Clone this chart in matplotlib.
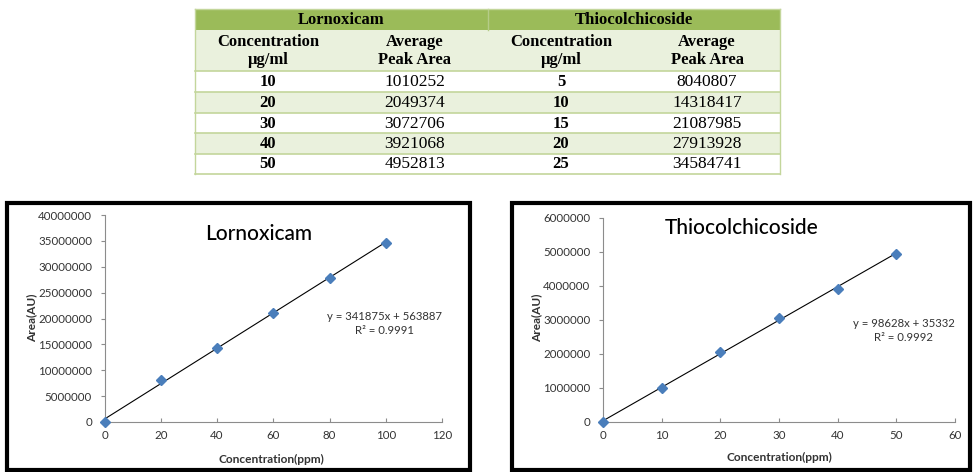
import numpy as np
import matplotlib.pyplot as plt
import matplotlib.patches as mpatches

# table values
lorn_conc = [10, 20, 30, 40, 50]
lorn_area = [1010252, 2049374, 3072706, 3921068, 4952813]
thio_conc = [5, 10, 15, 20, 25]
thio_area = [8040807, 14318417, 21087985, 27913928, 34584741]

# calibration charts (as plotted in the figure)
lorn_chart_x = [0, 20, 40, 60, 80, 100]
lorn_chart_y = [0, 8040807, 14318417, 21087985, 27913928, 34584741]
lorn_fit = [341875, 563887, 0.9991]

thio_chart_x = [0, 10, 20, 30, 40, 50]
thio_chart_y = [0, 1010252, 2049374, 3072706, 3921068, 4952813]
thio_fit = [98628, 35332, 0.9992]

plt.rcParams['font.family'] = ['Lato', 'DejaVu Sans']

W, H = 980, 472
fig = plt.figure(figsize=(9.8, 4.72), dpi=100)

# full-figure canvas in pixel coordinates for table and frames
canvas = fig.add_axes([0, 0, 1, 1])
canvas.set_xlim(0, W)
canvas.set_ylim(H, 0)
canvas.axis('off')

HEAD_GREEN = "#9bbb59"
LIGHT_GREEN = "#eaf1dd"
LINE_GREEN = "#c3d69b"
SERIF = ['Liberation Serif', 'DejaVu Serif']


def draw_table():
    cols = [195, 341, 488, 634, 780]
    rows = [71, 92, 113, 133, 154, 174]
    centers = [(cols[i] + cols[i + 1]) / 2 for i in range(4)]

    # header row
    canvas.add_patch(mpatches.Rectangle((195, 9), 585, 21, facecolor=HEAD_GREEN, edgecolor='none'))
    canvas.plot([488, 488], [9, 30], color="#b5cc88", lw=1)
    canvas.text((195 + 488) / 2, 20, "Lornoxicam", ha='center', va='center',
                fontsize=12, fontweight='bold', family=SERIF)
    canvas.text((488 + 780) / 2, 20, "Thiocolchicoside", ha='center', va='center',
                fontsize=12, fontweight='bold', family=SERIF)

    # sub header
    canvas.add_patch(mpatches.Rectangle((195, 30), 585, 41, facecolor=LIGHT_GREEN, edgecolor='none'))
    sub = [("Concentration", "µg/ml"), ("Average", "Peak Area")] * 2
    for c, (a, b) in zip(centers, sub):
        canvas.text(c, 42, a, ha='center', va='center', fontsize=12, fontweight='bold', family=SERIF)
        canvas.text(c, 60, b, ha='center', va='center', fontsize=12, fontweight='bold', family=SERIF)

    # data rows
    for i in range(5):
        top, bot = rows[i], rows[i + 1]
        fc = 'white' if i % 2 == 0 else LIGHT_GREEN
        canvas.add_patch(mpatches.Rectangle((195, top), 585, bot - top, facecolor=fc, edgecolor='none'))
        ym = (top + bot) / 2 + 0.5
        canvas.text(centers[0], ym, str(lorn_conc[i]), ha='center', va='center',
                    fontsize=12, fontweight='bold', family=SERIF)
        canvas.text(centers[1], ym, str(lorn_area[i]), ha='center', va='center',
                    fontsize=12.5, family=SERIF)
        canvas.text(centers[2], ym, str(thio_conc[i]), ha='center', va='center',
                    fontsize=12, fontweight='bold', family=SERIF)
        canvas.text(centers[3], ym, str(thio_area[i]), ha='center', va='center',
                    fontsize=12.5, family=SERIF)

    for r in rows:
        canvas.plot([195, 780], [r, r], color=LINE_GREEN, lw=1.2)
    canvas.plot([195, 780], [9, 9], color=LINE_GREEN, lw=1)
    canvas.plot([195, 195], [9, 174], color=LINE_GREEN, lw=1)
    canvas.plot([780, 780], [9, 174], color=LINE_GREEN, lw=1)


def draw_chart(rect, frame, x, y, fit, title, xmax, xstep, ymax, ystep,
               title_pos, eq_pos, xlab_pos, ylab_pos):
    # black frame around the chart
    fx0, fy0, fx1, fy1 = frame
    canvas.add_patch(mpatches.Rectangle((fx0, fy0), fx1 - fx0, fy1 - fy0,
                                        facecolor='none', edgecolor='black', lw=3))

    ax = fig.add_axes(rect)
    ax.patch.set_alpha(0)

    xs = np.array([0, x[-1]])
    ax.plot(xs, fit[0] * xs + fit[1], color='black', lw=0.8, zorder=2)
    ax.plot(x, y, 'D', color='#4a7ebb', markersize=5.2, clip_on=False, zorder=3)

    ax.set_xlim(0, xmax)
    ax.set_ylim(0, ymax)
    ax.set_xticks(np.arange(0, xmax + 1, xstep))
    ax.set_yticks(np.arange(0, ymax + 1, ystep))
    ax.yaxis.set_major_formatter(plt.FuncFormatter(lambda v, p: "{:.0f}".format(v)))

    for s in ['top', 'right']:
        ax.spines[s].set_visible(False)
    for s in ['left', 'bottom']:
        ax.spines[s].set_color('#8c8c8c')
        ax.spines[s].set_linewidth(0.8)

    ax.tick_params(axis='y', direction='out', length=3, width=0.8, color='#8c8c8c',
                   labelsize=8.3, labelcolor='#333333', pad=6)
    ax.tick_params(axis='x', direction='in', length=3, width=0.8, color='#8c8c8c',
                   labelsize=8.3, labelcolor='#333333', pad=6)

    ax.text(title_pos[0], title_pos[1], title, transform=ax.transAxes,
            ha='center', va='center', fontsize=15, fontweight='medium', color='black')
    ax.text(eq_pos[0], eq_pos[1], "y = {}x + {}".format(fit[0], fit[1]),
            transform=ax.transAxes, ha='center', va='center', fontsize=8.2, color='#333333')
    ax.text(eq_pos[0], eq_pos[1] - 0.072, "R² = {}".format(fit[2]),
            transform=ax.transAxes, ha='center', va='center', fontsize=8.2, color='#333333')

    ax.set_xlabel("Concentration(ppm)", fontsize=8.6, fontweight='bold', color='#333333')
    ax.set_ylabel("Area(AU)", fontsize=8.6, fontweight='bold', color='#333333')
    ax.xaxis.set_label_coords(*xlab_pos)
    ax.yaxis.set_label_coords(*ylab_pos)
    return ax


draw_table()

draw_chart([104.5 / W, 1 - 422 / H, 337.5 / W, 207 / H], (6.5, 203, 469.5, 470),
           lorn_chart_x, lorn_chart_y, lorn_fit, "Lornoxicam",
           120, 20, 40000000, 5000000,
           (0.458, 0.908), (0.831, 0.512), (0.496, -0.152), (-0.200, 0.502))

draw_chart([603 / W, 1 - 422 / H, 352 / W, 204 / H], (511.5, 203, 969.5, 470),
           thio_chart_x, thio_chart_y, thio_fit, "Thiocolchicoside",
           60, 10, 6000000, 1000000,
           (0.395, 0.951), (0.855, 0.485), (0.5, -0.148), (-0.173, 0.51))

fig.savefig("out.png", dpi=100)
